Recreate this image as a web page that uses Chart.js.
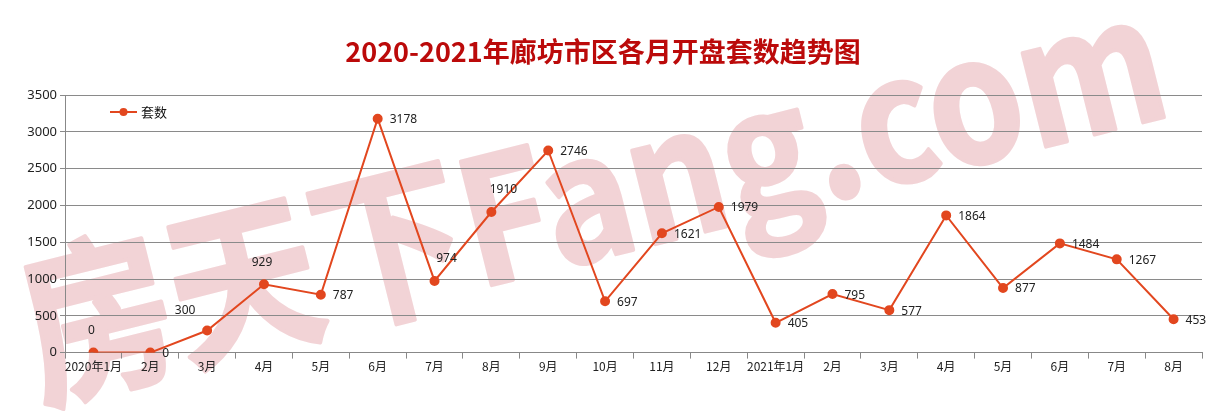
<!DOCTYPE html>
<html>
<head>
<meta charset="utf-8">
<script src="https://cdn.jsdelivr.net/npm/chart.js@4.4.0/dist/chart.umd.min.js"></script>
<style>
    html, body { margin: 0; padding: 0; background: #fff; }
    #wrap { width: 1220px; height: 411px; }
</style>
</head>
<body>
<div id="wrap"><canvas id="trendChart" width="1220" height="411"></canvas></div>
<script>
const months = ['2020年1月', '2月', '3月', '4月', '5月', '6月', '7月', '8月', '9月', '10月', '11月', '12月',
    '2021年1月', '2月', '3月', '4月', '5月', '6月', '7月', '8月'];
const openCounts = [0, 0, 300, 929, 787, 3178, 974, 1910, 2746, 697, 1621, 1979,
    405, 795, 577, 1864, 877, 1484, 1267, 453];
const yTicks = [0, 500, 1000, 1500, 2000, 2500, 3000, 3500];
const seriesName = '套数';
const chartTitle = '2020-2021年廊坊市区各月开盘套数趋势图';

// where each value label sits relative to its point
const labelPlace = ['up', 'right', 'upleft', 'up', 'right', 'right', 'upright', 'upright', 'right', 'right',
    'right', 'right', 'right', 'right', 'right', 'right', 'right', 'right', 'right', 'right'];

const lineColor = '#e2471f';
const cjk = '"Noto Sans CJK SC", "Noto Sans", sans-serif';

// 房天下 watermark, drawn under the grid
const watermark = {
    id: 'watermark',
    beforeDraw(chart) {
        const ctx = chart.ctx;
        ctx.save();
        ctx.translate(40, 398);
        ctx.rotate(-0.245);
        ctx.font = 'bold 172px ' + cjk;
        const txt = '房天下Fang.com';
        const w = ctx.measureText(txt).width;
        ctx.scale(1170 / w, 1);
        ctx.fillStyle = '#f2d3d6';
        ctx.strokeStyle = '#f2d3d6';
        ctx.lineWidth = 4;
        ctx.lineJoin = 'round';
        ctx.textBaseline = 'alphabetic';
        ctx.fillText(txt, 0, 0);
        ctx.strokeText(txt, 0, 0);
        ctx.restore();
    }
};

const extras = {
    id: 'extras',
    afterDatasetsDraw(chart) {
        const ctx = chart.ctx;
        const meta = chart.getDatasetMeta(0);
        ctx.save();
        ctx.font = '12px "Noto Sans", ' + cjk;
        ctx.fillStyle = '#222';
        ctx.textBaseline = 'middle';
        meta.data.forEach(function (pt, i) {
            const v = String(openCounts[i]);
            const p = labelPlace[i];
            if (p === 'right') {
                ctx.textAlign = 'left';
                ctx.fillText(v, pt.x + 12, pt.y + 1);
            } else if (p === 'up') {
                ctx.textAlign = 'center';
                ctx.fillText(v, pt.x - 2, pt.y - 22);
            } else if (p === 'upleft') {
                ctx.textAlign = 'center';
                ctx.fillText(v, pt.x - 22, pt.y - 20);
            } else {
                ctx.textAlign = 'center';
                ctx.fillText(v, pt.x + 12, pt.y - 22);
            }
        });

        // legend inside plot
        ctx.strokeStyle = lineColor;
        ctx.lineWidth = 2;
        ctx.beginPath();
        ctx.moveTo(110, 112);
        ctx.lineTo(137, 112);
        ctx.stroke();
        ctx.fillStyle = lineColor;
        ctx.beginPath();
        ctx.arc(123.5, 112, 4, 0, Math.PI * 2);
        ctx.fill();
        ctx.fillStyle = '#111';
        ctx.textAlign = 'left';
        ctx.font = '13px ' + cjk;
        ctx.fillText(seriesName, 141, 112);

        // title
        ctx.font = 'bold 27px ' + cjk;
        ctx.fillStyle = '#bb0a0a';
        ctx.textAlign = 'center';
        ctx.fillText(chartTitle, 603, 52);
        ctx.restore();
    }
};

new Chart(document.getElementById('trendChart').getContext('2d'), {
    type: 'line',
    data: {
        labels: months,
        datasets: [{
            label: seriesName,
            data: openCounts,
            borderColor: lineColor,
            backgroundColor: lineColor,
            borderWidth: 2,
            pointRadius: 4,
            pointHoverRadius: 4,
            fill: false,
            tension: 0
        }]
    },
    options: {
        responsive: false,
        animation: false,
        layout: { padding: { top: 95, left: 22, right: 18, bottom: 36 } },
        plugins: {
            legend: { display: false },
            title: { display: false },
            tooltip: { enabled: false }
        },
        scales: {
            x: {
                offset: true,
                grid: { offset: true, drawOnChartArea: false, tickLength: 6, color: '#888' },
                border: { color: '#888' },
                ticks: { autoSkip: false, maxRotation: 0, color: '#222', padding: 1, font: { size: 12, family: cjk } }
            },
            y: {
                min: 0,
                max: 3500,
                afterBuildTicks(axis) { axis.ticks = yTicks.map(v => ({ value: v })); },
                afterFit(axis) { axis.width = 43; },
                grid: { color: '#8a8a8a', tickLength: 5 },
                border: { color: '#888' },
                ticks: {
                    color: '#222', padding: 3, font: { size: 13, family: '"Noto Sans", sans-serif' },
                    callback: v => String(v)
                }
            }
        }
    },
    plugins: [watermark, extras]
});
</script>
</body>
</html>
